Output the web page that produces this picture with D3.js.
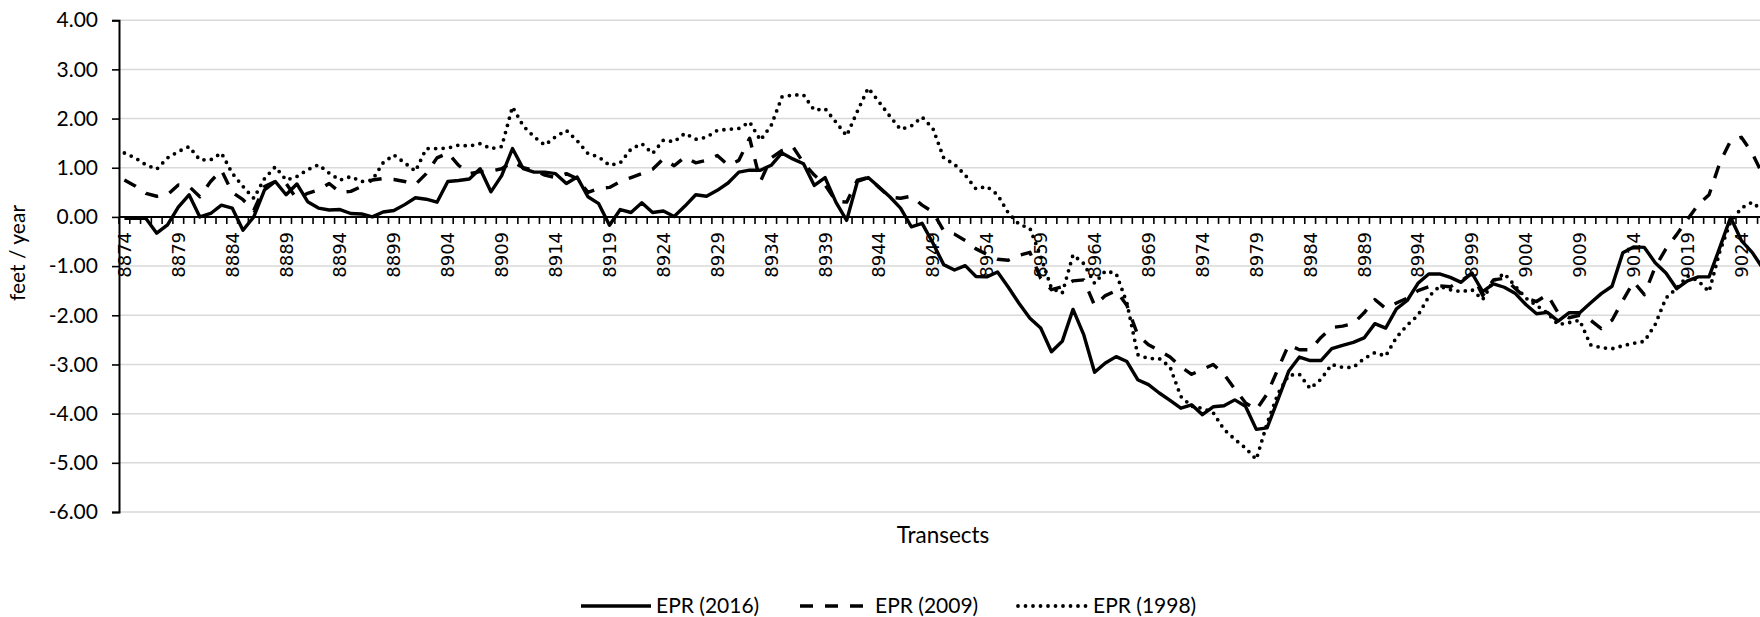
<!DOCTYPE html>
<html>
<head>
<meta charset="utf-8">
<script src="https://cdn.jsdelivr.net/npm/d3@7"></script>
<style>
  html, body { margin: 0; padding: 0; background: #ffffff; }
  svg { display: block; }
</style>
</head>
<body>
<svg id="chart" width="1760" height="617"></svg>
<script>
// Transect numbers along the shoreline (one category per transect)
const firstTransect = 8874;
const lastTransect = 9026;
const transects = d3.range(firstTransect, lastTransect + 1);

// Labelled transects on the category axis
const transectTickLabels = [
  "8874","8879","8884","8889","8894","8899","8904","8909","8914","8919",
  "8924","8929","8934","8939","8944","8949","8954","8959","8964","8969",
  "8974","8979","8984","8989","8994","8999","9004","9009","9014","9019","9024"
];

// Value axis ticks (feet / year)
const rateTicks = [4, 3, 2, 1, 0, -1, -2, -3, -4, -5, -6];

// End point rate, 2016 shoreline (8874 .. 9026)
const epr2016 = [
  -0.03,-0.03,-0.03,-0.33,-0.16, 0.20, 0.45, 0.00, 0.07, 0.24,
   0.18,-0.27, 0.00, 0.55, 0.72, 0.45, 0.67, 0.31, 0.18, 0.14,
   0.15, 0.07, 0.06, 0.00, 0.10, 0.13, 0.25, 0.39, 0.36, 0.30,
   0.72, 0.74, 0.77, 0.98, 0.51, 0.84, 1.39, 0.98, 0.91, 0.91,
   0.88, 0.68, 0.81, 0.41, 0.27,-0.17, 0.15, 0.09, 0.29, 0.09,
   0.12, 0.01, 0.22, 0.45, 0.42, 0.54, 0.69, 0.91, 0.95, 0.95,
   1.05, 1.30, 1.18, 1.08, 0.64, 0.80, 0.30,-0.07, 0.72, 0.80,
   0.61, 0.41, 0.18,-0.20,-0.13,-0.53,-0.97,-1.08,-0.99,-1.21,
  -1.22,-1.12,-1.43,-1.76,-2.06,-2.26,-2.74,-2.53,-1.88,-2.40,
  -3.16,-2.97,-2.84,-2.94,-3.31,-3.41,-3.58,-3.73,-3.89,-3.82,
  -4.02,-3.86,-3.84,-3.72,-3.85,-4.32,-4.29,-3.72,-3.14,-2.85,
  -2.92,-2.92,-2.68,-2.61,-2.55,-2.46,-2.17,-2.26,-1.87,-1.70,
  -1.35,-1.16,-1.16,-1.23,-1.33,-1.14,-1.52,-1.36,-1.43,-1.55,
  -1.78,-1.97,-1.94,-2.12,-1.95,-1.95,-1.75,-1.56,-1.41,-0.73,
  -0.61,-0.62,-0.93,-1.14,-1.46,-1.30,-1.22,-1.22,-0.62,-0.01,
  -0.48,-0.72,-1.05
];

// End point rate, 2009 shoreline
const epr2009 = [
   0.75, 0.63, 0.48, 0.42, 0.45, 0.65, 0.62, 0.41, 0.72, 0.95,
   0.50, 0.35, 0.13, 0.62, 0.72, 0.68, 0.36, 0.48, 0.55, 0.68,
   0.50, 0.52, 0.62, 0.75, 0.78, 0.76, 0.72, 0.66, 0.88, 1.20,
   1.30, 1.05, 0.88, 0.92, 0.93, 0.98, 1.12, 1.00, 0.95, 0.85,
   0.80, 0.88, 0.78, 0.50, 0.58, 0.60, 0.72, 0.80, 0.88, 0.97,
   1.18, 1.04, 1.22, 1.10, 1.15, 1.25, 1.05, 1.15, 1.60, 0.72,
   1.20, 1.35, 1.43, 1.10, 0.85, 0.65, 0.32, 0.30, 0.75, 0.80,
   0.60, 0.40, 0.38, 0.42, 0.24, 0.10,-0.28,-0.35,-0.48,-0.65,
  -0.76,-0.86,-0.88,-0.78,-0.72,-1.25,-1.48,-1.42,-1.30,-1.28,
  -1.80,-1.60,-1.50,-1.80,-2.40,-2.60,-2.72,-2.85,-3.05,-3.20,
  -3.10,-3.00,-3.20,-3.50,-3.78,-3.92,-3.60,-3.10,-2.60,-2.70,
  -2.70,-2.45,-2.25,-2.22,-2.17,-1.95,-1.68,-1.86,-1.75,-1.65,
  -1.50,-1.42,-1.40,-1.42,-1.30,-1.15,-1.60,-1.28,-1.25,-1.45,
  -1.65,-1.72,-1.58,-1.95,-2.05,-2.00,-2.10,-2.27,-2.10,-1.70,
  -1.32,-1.58,-1.02,-0.65,-0.36,-0.05, 0.25, 0.45, 1.10, 1.55,
   1.62, 1.30, 0.85
];

// End point rate, 1998 shoreline
const epr1998 = [
   1.30, 1.20, 1.06, 0.97, 1.20, 1.33, 1.43, 1.16, 1.16, 1.30,
   0.89, 0.62, 0.38, 0.78, 1.02, 0.75, 0.82, 0.96, 1.06, 0.89,
   0.75, 0.82, 0.72, 0.75, 1.10, 1.26, 1.10, 0.93, 1.39, 1.39,
   1.40, 1.46, 1.44, 1.49, 1.39, 1.43, 2.24, 1.85, 1.63, 1.46,
   1.63, 1.76, 1.55, 1.29, 1.22, 1.05, 1.10, 1.38, 1.49, 1.29,
   1.56, 1.53, 1.70, 1.58, 1.62, 1.76, 1.78, 1.80, 1.93, 1.56,
   1.86, 2.44, 2.48, 2.48, 2.17, 2.20, 1.93, 1.65, 2.15, 2.62,
   2.34, 2.05, 1.78, 1.85, 2.03, 1.80, 1.20, 1.07, 0.85, 0.57,
   0.62, 0.45, 0.08,-0.15,-0.23,-0.80,-1.45,-1.55,-0.77,-0.95,
  -1.35,-1.10,-1.15,-1.75,-2.80,-2.88,-2.88,-3.05,-3.65,-3.85,
  -3.89,-3.98,-4.32,-4.52,-4.70,-4.93,-4.20,-3.60,-3.22,-3.20,
  -3.49,-3.30,-3.00,-3.06,-3.06,-2.88,-2.76,-2.83,-2.45,-2.20,
  -2.00,-1.62,-1.41,-1.48,-1.52,-1.48,-1.68,-1.30,-1.15,-1.40,
  -1.65,-1.80,-1.95,-2.19,-2.15,-2.10,-2.60,-2.66,-2.68,-2.62,
  -2.57,-2.53,-2.19,-1.65,-1.45,-1.20,-1.30,-1.52,-0.70,-0.10,
   0.18, 0.30, 0.12
];

const seriesNames = ["EPR (2016)", "EPR (2009)", "EPR (1998)"];

// Line looks per series
const seriesStyles = [
  { dash: null,    cap: "butt",  width: 3.4 },
  { dash: "13 12", cap: "butt",  width: 3.4 },
  { dash: "0 7.5", cap: "round", width: 3.8 }
];

const series = [epr2016, epr2009, epr1998].map((values, k) => ({
  name: seriesNames[k],
  style: seriesStyles[k],
  points: transects.map((t, i) => ({ t, v: values[i] }))
}));

// ---- layout ----
const W = 1760, H = 617;
const plotLeft = 119;
const bandStep = 10.78;
const yTop = 20.2, yBottom = 512;

const svg = d3.select("#chart");

const x = d3.scaleBand()
  .domain(transects)
  .range([plotLeft, plotLeft + transects.length * bandStep])
  .paddingInner(0).paddingOuter(0);
const cx = t => x(t) + x.bandwidth() / 2;

const y = d3.scaleLinear().domain([-6, 4]).range([yBottom, yTop]);

const fmt = v => v.toFixed(2);

// horizontal gridlines
svg.append("g")
  .selectAll("line")
  .data(rateTicks.filter(v => v !== 0))
  .join("line")
  .attr("x1", plotLeft).attr("x2", W)
  .attr("y1", d => y(d)).attr("y2", d => y(d))
  .attr("stroke", "#d9d9d9").attr("stroke-width", 1.5);

// value axis
const yAxis = d3.axisLeft(y).tickValues(rateTicks).tickFormat(fmt)
  .tickSize(7).tickPadding(14);
const gy = svg.append("g").attr("transform", `translate(${plotLeft},0)`).call(yAxis);
gy.select(".domain").attr("stroke", "#000").attr("stroke-width", 2);
gy.selectAll(".tick line").attr("stroke", "#000").attr("stroke-width", 1.6);
gy.selectAll(".tick text")
  .attr("font-family", "Lato, 'Open Sans', sans-serif")
  .attr("font-size", 21)
  .attr("fill", "#000");

// series lines
const line = d3.line().x(d => cx(d.t)).y(d => y(d.v));
svg.append("g")
  .selectAll("path")
  .data(series)
  .join("path")
  .attr("d", d => line(d.points))
  .attr("fill", "none")
  .attr("stroke", "#000")
  .attr("stroke-width", d => d.style.width)
  .attr("stroke-linejoin", "round")
  .attr("stroke-linecap", d => d.style.cap)
  .attr("stroke-dasharray", d => d.style.dash);

// category axis drawn through zero
const y0 = y(0);
const gx = svg.append("g");
gx.append("line")
  .attr("x1", plotLeft).attr("x2", W)
  .attr("y1", y0).attr("y2", y0)
  .attr("stroke", "#000").attr("stroke-width", 2);
gx.selectAll("line.tick")
  .data(transects.concat([lastTransect + 1]))
  .join("line")
  .attr("class", "tick")
  .attr("x1", t => t <= lastTransect ? x(t) : x(lastTransect) + x.bandwidth())
  .attr("x2", t => t <= lastTransect ? x(t) : x(lastTransect) + x.bandwidth())
  .attr("y1", y0).attr("y2", y0 + 7)
  .attr("stroke", "#000").attr("stroke-width", 1.6);
gx.selectAll("text")
  .data(transectTickLabels)
  .join("text")
  .attr("transform", d => `translate(${cx(+d)},${y0 + 15}) rotate(-90)`)
  .attr("text-anchor", "end")
  .attr("dy", "0.36em")
  .attr("font-family", "'DejaVu Sans', sans-serif")
  .attr("font-size", 18)
  .attr("fill", "#000")
  .text(d => d);

// axis titles
svg.append("text")
  .attr("transform", `translate(25,253) rotate(-90)`)
  .attr("text-anchor", "middle")
  .attr("font-family", "Lato, 'Open Sans', sans-serif")
  .attr("font-size", 21)
  .attr("fill", "#000")
  .text("feet / year");

svg.append("text")
  .attr("x", 943).attr("y", 543)
  .attr("text-anchor", "middle")
  .attr("font-family", "Lato, 'Open Sans', sans-serif")
  .attr("font-size", 22.5)
  .attr("fill", "#000")
  .text("Transects");

// legend
const legendX = [581, 800, 1018];
const legendY = 606;
const lg = svg.append("g")
  .selectAll("g")
  .data(series)
  .join("g")
  .attr("transform", (d, i) => `translate(${legendX[i]},${legendY})`);
lg.append("line")
  .attr("x1", 0).attr("x2", 70).attr("y1", 0).attr("y2", 0)
  .attr("stroke", "#000")
  .attr("stroke-width", d => d.style.width)
  .attr("stroke-linecap", d => d.style.cap)
  .attr("stroke-dasharray", d => d.style.dash);
lg.append("text")
  .attr("x", 75).attr("y", 0).attr("dy", "0.35em")
  .attr("font-family", "Lato, 'Open Sans', sans-serif")
  .attr("font-size", 21)
  .attr("fill", "#000")
  .text(d => d.name);
</script>
</body>
</html>
